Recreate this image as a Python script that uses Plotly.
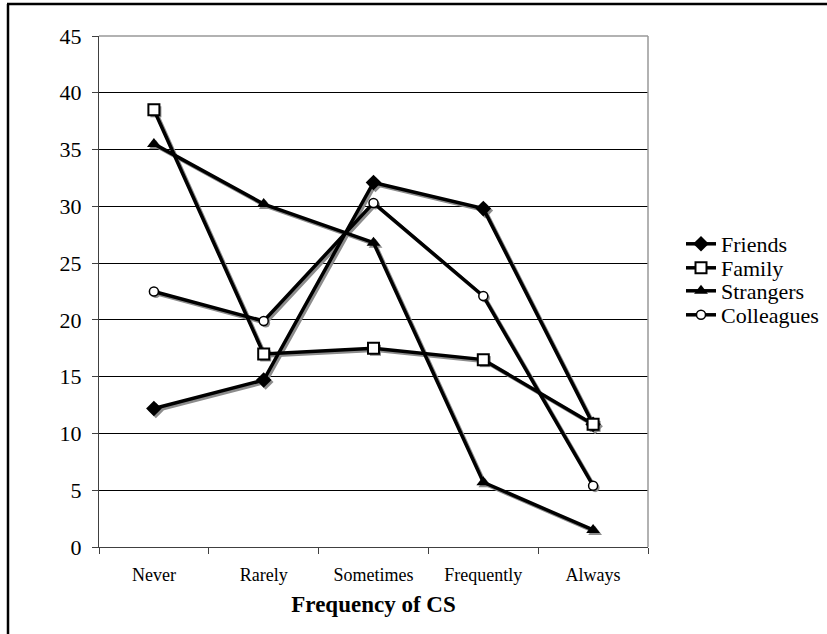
import plotly.graph_objects as go

categories = ["Never", "Rarely", "Sometimes", "Frequently", "Always"]
friends = [12.2, 14.7, 32.1, 29.8, 10.8]
family = [38.5, 17.0, 17.5, 16.5, 10.8]
strangers = [35.5, 30.2, 26.8, 5.7, 1.5]
colleagues = [22.5, 19.9, 30.3, 22.1, 5.4]
y_ticks = list(range(0, 50, 5))

W, H = 827, 634
L, R, T, B = 99, 179, 36, 87
pw, ph = W - L - R, H - T - B

xs = list(range(len(categories)))
# shadow offsets (2px right, 2px down) in data units
dx = 2 / (pw / 5)
dy = 2 / (ph / 45)

series = [
    ("Friends", friends, dict(symbol="diamond", size=12, color="black")),
    ("Family", family, dict(symbol="square", size=11, color="white", line=dict(color="black", width=2))),
    ("Strangers", strangers, dict(symbol="triangle-up", size=12, color="black")),
    ("Colleagues", colleagues, dict(symbol="circle", size=9, color="white", line=dict(color="black", width=1.5))),
]
legend_rows_px = [244, 268, 291, 315]

fig = go.Figure()
for name, vals, mk in series:
    fig.add_trace(go.Scatter(
        x=[x + dx for x in xs], y=[v - dy for v in vals], mode="lines+markers",
        line=dict(color="#8c8c8c", width=3.5),
        marker=dict(symbol=mk["symbol"], size=mk["size"], color="#8c8c8c"),
        showlegend=False, hoverinfo="skip"))

legend_layouts = {}
for i, (name, vals, mk) in enumerate(series):
    lg = "legend" if i == 0 else f"legend{i + 1}"
    fig.add_trace(go.Scatter(
        x=xs, y=vals, mode="lines+markers", name=name, legend=lg,
        line=dict(color="black", width=3.5), marker=mk))
    legend_layouts[lg] = dict(
        x=(681 - L) / pw, y=(H - B - legend_rows_px[i]) / ph,
        xanchor="left", yanchor="middle", font=dict(size=22),
        bgcolor="rgba(0,0,0,0)", borderwidth=0)

fig.update_layout(
    width=W, height=H, margin=dict(l=L, r=R, t=T, b=B, autoexpand=False),
    paper_bgcolor="white", plot_bgcolor="white",
    font=dict(family="Liberation Serif", color="black"),
    xaxis=dict(range=[-0.5, 4.5], tickvals=xs, ticktext=categories,
               ticks="", tickfont=dict(size=18), ticklabelstandoff=11,
               showgrid=False, zeroline=False,
               showline=True, linecolor="#404040", linewidth=1,
               minor=dict(tickvals=[i - 0.5 for i in range(len(categories) + 1)],
                          ticks="outside", ticklen=6, tickcolor="#404040", showgrid=False),
               title=dict(text="<b>Frequency of CS</b>", font=dict(size=23), standoff=12)),
    yaxis=dict(range=[0, 45], tickvals=y_ticks, ticks="outside", ticklen=6,
               tickcolor="#404040", tickfont=dict(size=22), ticklabelstandoff=6,
               showgrid=True, gridcolor="black", gridwidth=1, zeroline=False,
               showline=True, linecolor="#404040", linewidth=1),
    shapes=[
        dict(type="line", xref="paper", yref="paper", x0=0, x1=1, y0=1, y1=1,
             line=dict(color="#999999", width=1.5)),
        dict(type="line", xref="paper", yref="paper", x0=1, x1=1, y0=0, y1=1,
             line=dict(color="#999999", width=1.5)),
        dict(type="line", xref="paper", yref="paper",
             x0=(7 - L) / pw, x1=(W + 5 - L) / pw, y0=(H - B - 4) / ph, y1=(H - B - 4) / ph,
             line=dict(color="black", width=2.5)),
        dict(type="line", xref="paper", yref="paper",
             x0=(8 - L) / pw, x1=(8 - L) / pw, y0=(H - B - 4) / ph, y1=(-B - 5) / ph,
             line=dict(color="black", width=2.5)),
    ],
    **legend_layouts,
)

fig.write_html("out.html")
